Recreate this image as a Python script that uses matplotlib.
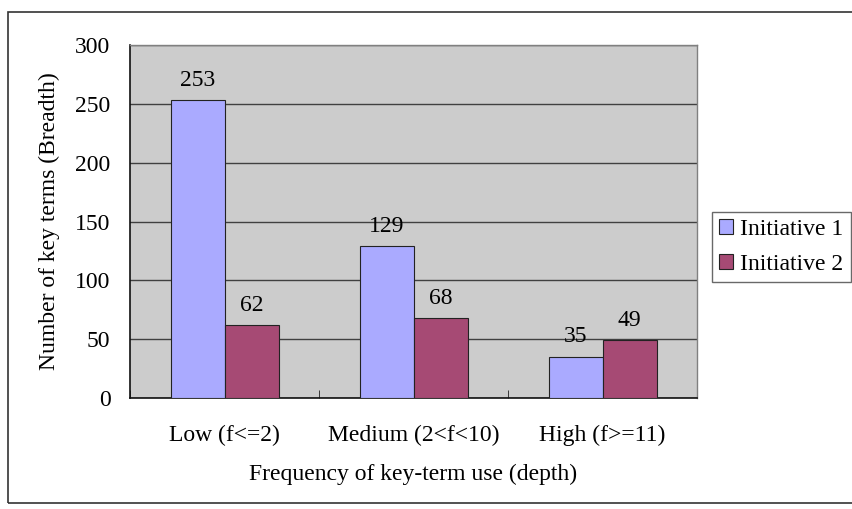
import matplotlib
matplotlib.use("Agg")
import matplotlib.pyplot as plt
from matplotlib.patches import Rectangle
import numpy as np

categories = ["Low (f<=2)", "Medium (2<f<10)", "High (f>=11)"]
initiative1 = [253, 129, 35]
initiative2 = [62, 68, 49]
series_names = ["Initiative 1", "Initiative 2"]
colors = ["#AAAAFF", "#A64A74"]
yticks = [0, 50, 100, 150, 200, 250, 300]

plt.rcParams['font.family'] = ['Liberation Serif', 'DejaVu Serif']
FS = 17

W, H = 852, 509
fig = plt.figure(figsize=(W/100, H/100), dpi=100)
fig.patches.append(Rectangle((8/W, 1-503/H), 1.0, (503-12)/H, transform=fig.transFigure,
                             fill=False, edgecolor="#333333", lw=1.2))

ax = fig.add_axes([130/W, 1-398/H, 567/W, 353/H])
ax.set_facecolor("#CCCCCC")

x = np.arange(len(categories))
bw = 1/3.5
b1 = ax.bar(x - bw/2, initiative1, bw, color=colors[0], edgecolor="#222222", lw=0.8,
            label=series_names[0], zorder=3)
b2 = ax.bar(x + bw/2, initiative2, bw, color=colors[1], edgecolor="#222222", lw=0.8,
            label=series_names[1], zorder=3)
for bars, vals in ((b1, initiative1), (b2, initiative2)):
    for r, v in zip(bars, vals):
        ax.text(r.get_x() + r.get_width()/2, v + 8, str(v), ha="center", va="bottom",
                fontsize=FS, zorder=4)

ax.set_xlim(-0.5, len(categories) - 0.5)
ax.set_ylim(0, 300)
ax.set_yticks(yticks)
ax.set_yticklabels([str(t) for t in yticks], fontsize=FS)
ax.yaxis.grid(True, color="#404040", lw=1.0, zorder=1)
ax.set_axisbelow(True)
ax.tick_params(axis="y", length=0, pad=14)

ax.set_xticks(x)
ax.set_xticklabels(categories, fontsize=FS)
ax.tick_params(axis="x", length=0, pad=19)
ax.set_xticks(np.arange(-0.5, len(categories)), minor=True)
ax.tick_params(axis="x", which="minor", direction="in", length=6, color="#222222")

for s in ("top", "right"):
    ax.spines[s].set_color("#808080")
    ax.spines[s].set_linewidth(1.0)
for s in ("left", "bottom"):
    ax.spines[s].set_color("#111111")
    ax.spines[s].set_linewidth(1.2)

ax.set_ylabel("Number of key terms (Breadth)", fontsize=FS, labelpad=11)
ax.set_xlabel("Frequency of key-term use (depth)", fontsize=FS, labelpad=13)

leg = fig.legend(handles=[b1, b2], loc="upper left", bbox_to_anchor=(712/W, 1-212/H),
                 fontsize=FS, frameon=True, fancybox=False, edgecolor="#444444",
                 handlelength=0.6, handleheight=0.6, handletextpad=0.3,
                 borderpad=0.3, labelspacing=0.6, borderaxespad=0)
leg.get_frame().set_linewidth(1.0)

fig.savefig("out.png", dpi=100)
